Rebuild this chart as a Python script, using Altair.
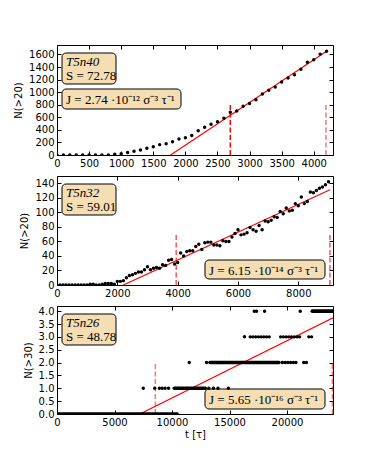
import altair as alt
import pandas as pd

# ---------------- Panel 1 : T5n40 ----------------
T1 = [0, 100, 200, 300, 400, 500, 600, 700, 800, 900, 1000, 1100, 1200, 1300, 1400,
      1500, 1600, 1700, 1800, 1900, 2000, 2100, 2200, 2300, 2400, 2500, 2600, 2700,
      2800, 2900, 3000, 3100, 3200, 3300, 3400, 3500, 3600, 3700, 3800, 3900, 4000,
      4100, 4200]
N1 = [0, 0, 0, 0, 0, 0, 0, 0, 0, 12, 20, 40, 60, 80, 108,
      130, 165, 180, 210, 255, 275, 310, 385, 440, 490, 530, 585, 680,
      700, 775, 820, 880, 970, 1030, 1080, 1160, 1225, 1275, 1365, 1475, 1515,
      1605, 1650]
FIT1_T = [1770, 4200]
FIT1_N = [0, 1650]
DASH1_T = [2700, 4190]
DASH1_TOP = [825, 825]
DASH1_ALPHA = [1.0, 0.55]
X1_TICKS = [0, 500, 1000, 1500, 2000, 2500, 3000, 3500, 4000]
Y1_TICKS = [0, 200, 400, 600, 800, 1000, 1200, 1400, 1600]
X1_DOMAIN = [0, 4300]
Y1_DOMAIN = [0, 1750]
LABEL1 = ["T5n40", "S = 72.78"]
J1 = "J = 2.74 ·10⁻¹² σ⁻³ τ⁻¹"

# ---------------- Panel 2 : T5n32 ----------------
T2 = [0, 100, 200, 300, 400, 500, 600, 700, 800, 900, 1000,
      1100, 1200, 1300, 1400, 1500, 1600, 1700, 1800, 1900, 2000,
      2100, 2200, 2300, 2400, 2500, 2600, 2700, 2800, 2900, 3000,
      3100, 3200, 3300, 3400, 3500, 3600, 3700, 3800, 3900, 4000,
      4100, 4200, 4300, 4400, 4500, 4600, 4700, 4800, 4900, 5000,
      5100, 5200, 5300, 5400, 5500, 5600, 5700, 5800, 5900, 6000,
      6100, 6200, 6300, 6400, 6500, 6600, 6700, 6800, 6900, 7000,
      7100, 7200, 7300, 7400, 7500, 7600, 7700, 7800, 7900, 8000,
      8100, 8200, 8300, 8400, 8500, 8600, 8700, 8800, 8900, 9000]
N2 = [0, 0, 0, 0, 0, 0, 0, 0, 0, 0, 0,
      1, 1, 0, 0, 1, 2, 2, 2, 1, 5,
      5, 6, 10, 13, 14, 16, 18, 18, 21, 25,
      21, 23, 24, 23, 28, 27, 34, 35, 29, 31,
      44, 40, 46, 47, 47, 53, 56, 49, 58, 59,
      59, 55, 55, 54, 61, 60, 60, 66, 71, 76,
      69, 70, 72, 79, 76, 74, 82, 76, 88, 87,
      89, 94, 93, 101, 98, 106, 102, 103, 112, 109,
      121, 112, 115, 128, 127, 130, 133, 135, 138, 142]
FIT2_T = [2200, 9050]
FIT2_N = [0, 131]
DASH2_T = [3950, 9050]
DASH2_TOP = [71, 71]
DASH2_ALPHA = [1.0, 1.0]
X2_TICKS = [0, 2000, 4000, 6000, 8000]
Y2_TICKS = [0, 20, 40, 60, 80, 100, 120, 140]
X2_DOMAIN = [0, 9150]
Y2_DOMAIN = [0, 150]
LABEL2 = ["T5n32", "S = 59.01"]
J2 = "J = 6.15 ·10⁻¹⁴ σ⁻³ τ⁻¹"

# ---------------- Panel 3 : T5n26 ----------------
# isolated samples
DOT3_T = [7500, 8500, 8900, 9150, 9400, 9700, 13200, 13600, 14000, 14900,
          11500, 13000, 16300, 17150, 17350, 18050, 21150]
DOT3_N = [1, 1, 1, 1, 1, 1, 1, 1, 1, 1,
          2, 2, 3, 4, 4, 4, 4]
# runs of densely packed samples (start, end, level)
DENSE3_T0 = [0, 10200, 13300, 22200]
DENSE3_T1 = [10450, 12900, 19300, 24000]
DENSE3_N = [0, 1, 2, 4]
# runs of loosely spaced samples
SPARSE3_T0 = [19600, 21450, 16800, 19450, 21900]
SPARSE3_T1 = [21000, 21850, 18450, 21250, 22150]
SPARSE3_N = [2, 2, 3, 3, 3]
FIT3_T = [7200, 24000]
FIT3_N = [0, 3.74]
DASH3_T = [8550, 23950]
DASH3_TOP = [2, 2]
DASH3_ALPHA = [0.55, 0.55]
X3_TICKS = [0, 5000, 10000, 15000, 20000]
Y3_TICKS = [0, 0.5, 1, 1.5, 2, 2.5, 3, 3.5, 4]
X3_DOMAIN = [0, 24000]
Y3_DOMAIN = [0, 4.2]
LABEL3 = ["T5n26", "S = 48.78"]
J3 = "J = 5.65 ·10⁻¹⁶ σ⁻³ τ⁻¹"

W = 276
BOX_FILL = "#f5deb3"
SERIF = "Liberation Serif"


def axes(xticks, yticks, xtitle, ytitle, yfmt):
    xb = alt.Axis(orient="bottom", values=xticks, offset=-4, tickSize=4, domain=False,
                  labelFlush=False, labelPadding=3, title=xtitle, titlePadding=2,
                  format="d", grid=False)
    yl = alt.Axis(orient="left", values=yticks, offset=-4, tickSize=4, domain=False,
                  labelPadding=3, title=ytitle, titlePadding=5, format=yfmt, grid=False)
    xt = alt.Axis(orient="top", values=xticks, offset=-4, tickSize=4, domain=False,
                  labels=False, title=None, grid=False)
    yr = alt.Axis(orient="right", values=yticks, offset=-4, tickSize=4, domain=False,
                  labels=False, title=None, grid=False)
    return xb, yl, xt, yr


def boxes(label, jtext, jbox):
    one = pd.DataFrame({"k": [0]})
    layers = []
    layers.append(alt.Chart(one).mark_rect(fill=BOX_FILL, stroke="black", strokeWidth=1,
                                           cornerRadius=4).encode(
        x=alt.value(5), x2=alt.value(59), y=alt.value(8), y2=alt.value(39)))
    layers.append(alt.Chart(one).mark_text(align="left", baseline="middle", font=SERIF,
                                           fontSize=13, fontStyle="italic").encode(
        x=alt.value(9), y=alt.value(17), text=alt.value(label[0])))
    layers.append(alt.Chart(one).mark_text(align="left", baseline="middle", font=SERIF,
                                           fontSize=13).encode(
        x=alt.value(9), y=alt.value(31), text=alt.value(label[1])))
    jx0, jy0, jx1, jy1 = jbox
    layers.append(alt.Chart(one).mark_rect(fill=BOX_FILL, stroke="black", strokeWidth=1,
                                           cornerRadius=4).encode(
        x=alt.value(jx0), x2=alt.value(jx1), y=alt.value(jy0), y2=alt.value(jy1)))
    layers.append(alt.Chart(one).mark_text(align="left", baseline="middle", font=SERIF,
                                           fontSize=13).encode(
        x=alt.value(jx0 + 4), y=alt.value((jy0 + jy1) / 2 + 1), text=alt.value(jtext)))
    return layers


def panel(pts, fit_t, fit_n, dash_t, dash_top, dash_alpha, xdom, ydom, xticks, yticks,
          xtitle, ytitle, yfmt, label, jtext, jbox, height, extra=None, dash_w=1.5):
    xb, yl, xt, yr = axes(xticks, yticks, xtitle, ytitle, yfmt)
    xs = alt.Scale(domain=xdom, nice=False, zero=False)
    ys = alt.Scale(domain=ydom, nice=False, zero=False)
    layers = []
    layers += boxes(label, jtext, jbox)
    fit = pd.DataFrame({"t": fit_t, "n": fit_n})
    layers.append(alt.Chart(fit).mark_line(color="red", strokeWidth=1.2, clip=True).encode(
        x=alt.X("t:Q", scale=xs, axis=xt), y=alt.Y("n:Q", scale=ys, axis=yr)))
    dash = pd.DataFrame({"t": dash_t, "top": dash_top, "a": dash_alpha,
                         "z": [0] * len(dash_t)})
    layers.append(alt.Chart(dash).mark_rule(color="red", strokeDash=[5, 2.5],
                                            strokeWidth=dash_w, clip=True).encode(
        x=alt.X("t:Q", scale=xs, axis=None), y=alt.Y("z:Q", scale=ys, axis=None),
        y2="top:Q", opacity=alt.Opacity("a:Q", scale=None, legend=None)))
    if extra is not None:
        for ch in extra(xs, ys):
            layers.append(ch)
    layers.append(alt.Chart(pts).mark_circle(color="black", size=12, opacity=1,
                                             clip=True).encode(
        x=alt.X("t:Q", scale=xs, axis=xb), y=alt.Y("n:Q", scale=ys, axis=yl)))
    return alt.layer(*layers).resolve_axis(x="independent", y="independent").properties(
        width=W, height=height)


def runs3(xs, ys):
    dense = pd.DataFrame({"t0": DENSE3_T0, "t1": DENSE3_T1, "n": DENSE3_N})
    sparse = pd.DataFrame({"t0": SPARSE3_T0, "t1": SPARSE3_T1, "n": SPARSE3_N})
    c1 = alt.Chart(dense).mark_rule(color="black", strokeWidth=3.6, strokeCap="round",
                                    clip=True).encode(
        x=alt.X("t0:Q", scale=xs, axis=None), x2="t1:Q",
        y=alt.Y("n:Q", scale=ys, axis=None))
    c2 = alt.Chart(sparse).mark_rule(color="black", strokeWidth=3.4, strokeCap="round",
                                     strokeDash=[0.01, 2.7], clip=True).encode(
        x=alt.X("t0:Q", scale=xs, axis=None), x2="t1:Q",
        y=alt.Y("n:Q", scale=ys, axis=None))
    return [c1, c2]


p1 = panel(pd.DataFrame({"t": T1, "n": N1}), FIT1_T, FIT1_N, DASH1_T, DASH1_TOP, DASH1_ALPHA,
           X1_DOMAIN, Y1_DOMAIN, X1_TICKS, Y1_TICKS, None, "N(>20)", "d",
           LABEL1, J1, (5, 44, 124, 64), 110)
p2 = panel(pd.DataFrame({"t": T2, "n": N2}), FIT2_T, FIT2_N, DASH2_T, DASH2_TOP, DASH2_ALPHA,
           X2_DOMAIN, Y2_DOMAIN, X2_TICKS, Y2_TICKS, None, "N(>20)", "d",
           LABEL2, J2, (148, 84, 268, 103), 109, dash_w=1.0)
p3 = panel(pd.DataFrame({"t": DOT3_T, "n": DOT3_N}), FIT3_T, FIT3_N, DASH3_T, DASH3_TOP,
           DASH3_ALPHA, X3_DOMAIN, Y3_DOMAIN, X3_TICKS, Y3_TICKS, "t [τ]", "N(>30)", ".1f",
           LABEL3, J3, (148, 83, 268, 103), 108, extra=runs3)

chart = alt.vconcat(p1, p2, p3, spacing=6).properties(
    padding={"left": 5, "top": 36, "right": 5, "bottom": 5}
).configure_axis(
    labelFont="DejaVu Sans", labelFontSize=10, labelColor="black",
    titleFont="DejaVu Sans", titleFontSize=10, titleFontWeight="normal", titleColor="black",
    tickColor="black", tickWidth=1
).configure_view(stroke="black", strokeWidth=1)

chart.save("out.html", embed_options={"renderer": "svg", "actions": False})
